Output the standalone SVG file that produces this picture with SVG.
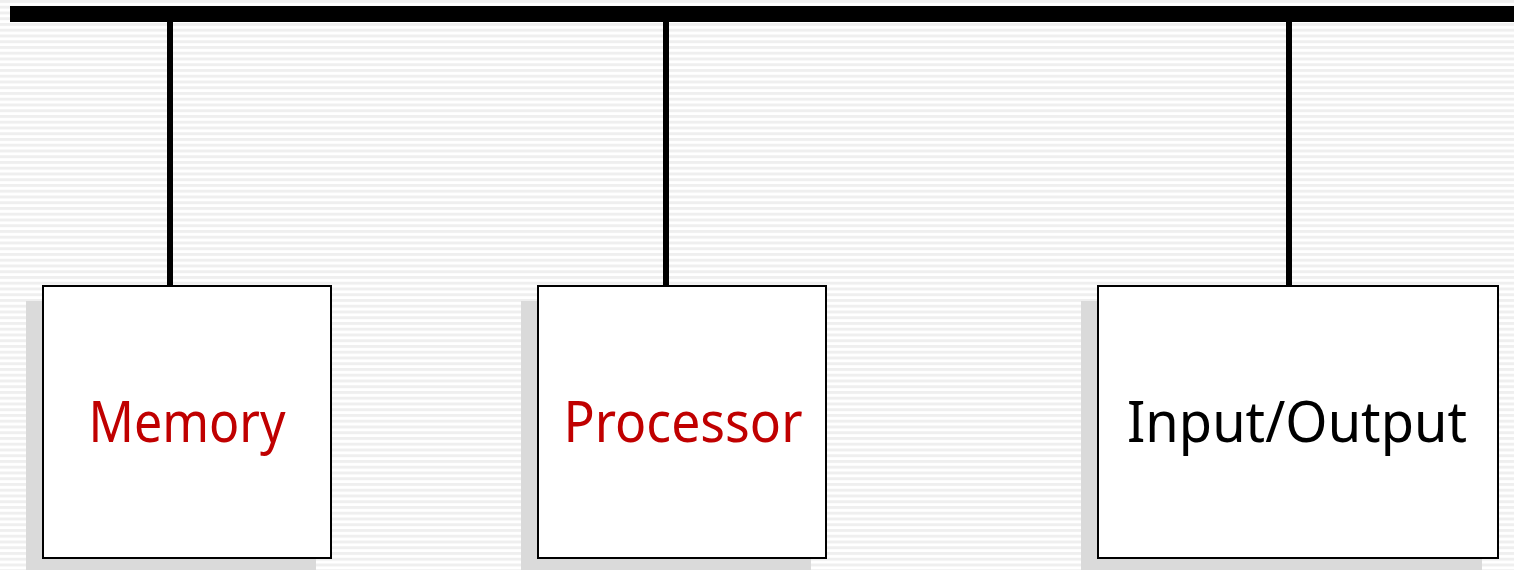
<svg xmlns="http://www.w3.org/2000/svg" width="1514" height="570" viewBox="0 0 1514 570">
  <defs>
    <pattern id="stripes" patternUnits="userSpaceOnUse" width="20" height="5.75">
      <rect x="0" y="0" width="20" height="5.75" fill="#ffffff"/>
      <rect x="0" y="0" width="20" height="2.9" fill="#efefef"/>
    </pattern>
  </defs>
  <style>
    .shadow { fill: #dadada; stroke: none; }
    .box { fill: #ffffff; stroke: #000000; stroke-width: 2; }
    .wire { stroke: #000000; stroke-width: 6; fill: none; }
    .label { font-family: "Comic Sans MS", "Noto Sans", "DejaVu Sans", sans-serif; font-size: 56px; text-anchor: middle; }
    .red { fill: #c00000; }
    .black { fill: #000000; }
  </style>

  <!-- striped backdrop -->
  <rect x="0" y="0" width="1514" height="570" fill="url(#stripes)"/>

  <!-- system bus and the drops to each unit -->
  <g id="connectors">
    <rect x="10" y="6" width="1504" height="16" fill="#000000"/>
    <line class="wire" x1="170" y1="20" x2="170" y2="286"/>
    <line class="wire" x1="666" y1="20" x2="666" y2="286"/>
    <line class="wire" x1="1289" y1="20" x2="1289" y2="286"/>
  </g>

  <g id="memory">
    <rect class="shadow" x="26" y="301" width="290" height="272"/>
    <rect class="box" x="43" y="286" width="288" height="272"/>
    <text class="label red" x="187" y="442" textLength="197" lengthAdjust="spacingAndGlyphs">Memory</text>
  </g>

  <g id="processor">
    <rect class="shadow" x="521" y="301" width="290" height="272"/>
    <rect class="box" x="538" y="286" width="288" height="272"/>
    <text class="label red" x="683" y="442" textLength="239" lengthAdjust="spacingAndGlyphs">Processor</text>
  </g>

  <g id="input-output">
    <rect class="shadow" x="1081" y="301" width="401" height="272"/>
    <rect class="box" x="1098" y="286" width="400" height="272"/>
    <text class="label black" x="1297" y="442" textLength="340" lengthAdjust="spacingAndGlyphs">Input/Output</text>
  </g>
</svg>
